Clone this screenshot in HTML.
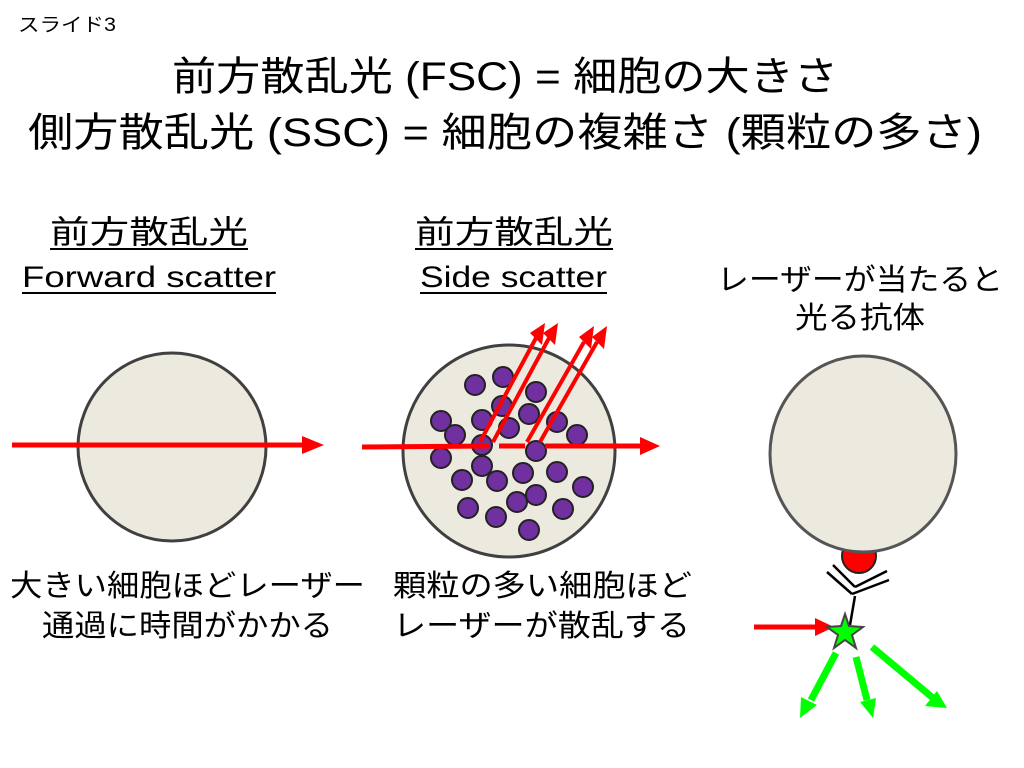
<!DOCTYPE html>
<html><head><meta charset="utf-8"><style>
html,body{margin:0;padding:0;background:#fff;}
svg{display:block;}
text{font-family:"Liberation Sans","Noto Sans CJK JP",sans-serif;fill:#000;}
</style></head><body>
<svg width="1024" height="768" viewBox="0 0 1024 768" xmlns="http://www.w3.org/2000/svg">
<text x="18" y="31" font-size="19" textLength="98" lengthAdjust="spacingAndGlyphs">スライド3</text>
<text x="172" y="90" font-size="40" textLength="666" lengthAdjust="spacingAndGlyphs">前方散乱光 (FSC) = 細胞の大きさ</text>
<text x="28" y="146" font-size="40" textLength="954" lengthAdjust="spacingAndGlyphs">側方散乱光 (SSC) = 細胞の複雑さ (顆粒の多さ)</text>

<text x="50" y="243" font-size="32" textLength="198" lengthAdjust="spacingAndGlyphs">前方散乱光</text>
<rect x="50" y="248" width="198" height="2"/>
<text x="22" y="287" font-size="30" textLength="254" lengthAdjust="spacingAndGlyphs">Forward scatter</text>
<rect x="22" y="292" width="254" height="2"/>
<text x="415" y="243" font-size="32" textLength="198" lengthAdjust="spacingAndGlyphs">前方散乱光</text>
<rect x="415" y="248" width="198" height="2"/>
<text x="420" y="287" font-size="30" textLength="187" lengthAdjust="spacingAndGlyphs">Side scatter</text>
<rect x="420" y="292" width="187" height="2"/>
<text x="717" y="290" font-size="30" textLength="286" lengthAdjust="spacingAndGlyphs">レーザーが当たると</text>
<text x="795" y="328" font-size="30" textLength="130" lengthAdjust="spacingAndGlyphs">光る抗体</text>

<text x="10" y="596" font-size="30" textLength="355" lengthAdjust="spacingAndGlyphs">大きい細胞ほどレーザー</text>
<text x="42" y="636" font-size="30" textLength="291" lengthAdjust="spacingAndGlyphs">通過に時間がかかる</text>
<text x="393" y="596" font-size="30" textLength="299" lengthAdjust="spacingAndGlyphs">顆粒の多い細胞ほど</text>
<text x="393" y="636" font-size="30" textLength="297" lengthAdjust="spacingAndGlyphs">レーザーが散乱する</text>

<!-- left -->
<circle cx="172" cy="447" r="94" fill="#ECEADF" stroke="#404040" stroke-width="3"/>
<line x1="12" y1="445" x2="305" y2="445" stroke="#f00" stroke-width="5"/>
<polygon points="302,436 324,445 302,454" fill="#f00"/>

<!-- middle -->
<circle cx="509" cy="451" r="106" fill="#ECEADF" stroke="#404040" stroke-width="3"/>
<g fill="#7030A0" stroke="#222" stroke-width="2">
<circle cx="475" cy="385" r="10"/><circle cx="503" cy="377" r="10"/><circle cx="536" cy="392" r="10"/>
<circle cx="502" cy="406" r="10"/><circle cx="529" cy="414" r="10"/><circle cx="482" cy="420" r="10"/>
<circle cx="509" cy="428" r="10"/><circle cx="557" cy="422" r="10"/><circle cx="441" cy="421" r="10"/>
<circle cx="455" cy="435" r="10"/><circle cx="577" cy="435" r="10"/><circle cx="482" cy="445" r="10"/>
<circle cx="536" cy="451" r="10"/><circle cx="441" cy="458" r="10"/><circle cx="482" cy="466" r="10"/>
<circle cx="462" cy="480" r="10"/><circle cx="497" cy="481" r="10"/><circle cx="523" cy="473" r="10"/>
<circle cx="557" cy="472" r="10"/><circle cx="583" cy="487" r="10"/><circle cx="536" cy="495" r="10"/>
<circle cx="517" cy="502" r="10"/><circle cx="468" cy="508" r="10"/><circle cx="496" cy="517" r="10"/>
<circle cx="563" cy="509" r="10"/><circle cx="529" cy="530" r="10"/>
</g>
<line x1="362" y1="447" x2="490" y2="446" stroke="#f00" stroke-width="5"/>
<line x1="499" y1="446" x2="525" y2="446" stroke="#f00" stroke-width="5"/>
<line x1="545" y1="446" x2="642" y2="446" stroke="#f00" stroke-width="5"/>
<polygon points="640,437 660,446 640,455" fill="#f00"/>
<g stroke="#f00" stroke-width="4" fill="none">
<line x1="480" y1="442" x2="536" y2="338"/><line x1="493" y1="442" x2="549" y2="338"/>
<line x1="527" y1="442" x2="584" y2="342"/><line x1="540" y1="442" x2="597" y2="342"/>
</g>
<g fill="#f00">
<polygon points="530,333 545,323 542,345"/><polygon points="543,333 558,323 555,345"/>
<polygon points="579,337 594,326 591,349"/><polygon points="592,337 607,326 604,349"/>
</g>

<!-- right -->
<circle cx="859" cy="556" r="17" fill="#f00" stroke="#222" stroke-width="2"/>
<ellipse cx="863" cy="454" rx="93" ry="98" fill="#ECEADF" stroke="#555" stroke-width="3"/>
<g stroke="#000" stroke-width="2.5" fill="none">
<line x1="833" y1="565" x2="855" y2="587"/><line x1="827" y1="572" x2="852" y2="594"/>
<line x1="855" y1="587" x2="887" y2="571"/><line x1="852" y1="594" x2="889" y2="580"/>
<line x1="855" y1="596" x2="850" y2="625"/>
</g>
<line x1="754" y1="627" x2="818" y2="627" stroke="#f00" stroke-width="5"/>
<polygon points="815,618 834,627 815,636" fill="#f00"/>
<polygon points="845,614 849,626 863,627 852,635 856,648 845,640 834,648 838,635 827,627 841,626" fill="#00ff00" stroke="#444" stroke-width="2"/>
<g stroke="#00ff00" stroke-width="7">
<line x1="836" y1="653" x2="811" y2="700"/>
<line x1="856" y1="657" x2="867" y2="700"/>
<line x1="872" y1="647" x2="933" y2="698"/>
</g>
<g fill="#00ff00">
<polygon points="800,718 801,697 817,705"/>
<polygon points="873,718 860,702 876,698"/>
<polygon points="947,708 925,706 937,691"/>
</g>
</svg>
</body></html>
